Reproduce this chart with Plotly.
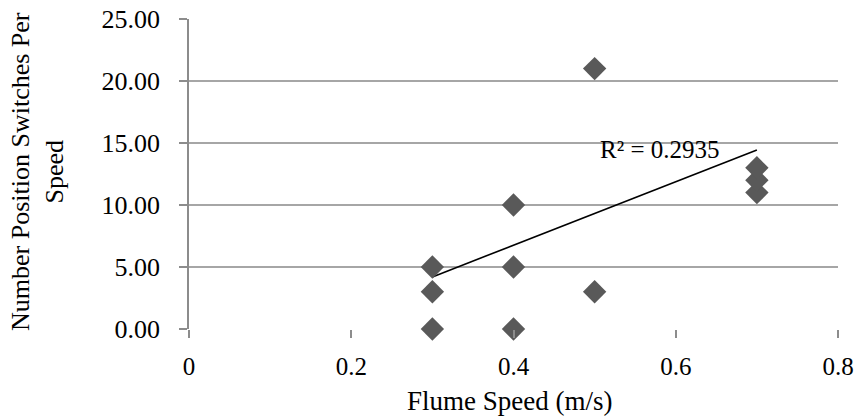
import plotly.graph_objects as go

speed = [0.3, 0.3, 0.3, 0.4, 0.4, 0.4, 0.5, 0.5, 0.7, 0.7, 0.7]
switches = [0, 3, 5, 0, 5, 10, 3, 21, 11, 12, 13]
trend_x = [0.3, 0.7]
trend_y = [4.2, 14.44]
r2_label = "R² = 0.2935"
y_ticks = [0, 5, 10, 15, 20, 25]
x_ticks = [0, 0.2, 0.4, 0.6, 0.8]

serif = "Liberation Serif"
L, R, T, B = 189, 18, 19, 90
W, H = 856, 419
pw = W - L - R
ph = H - T - B

fig = go.Figure()
fig.add_trace(go.Scatter(x=trend_x, y=trend_y, mode="lines",
                         line=dict(color="black", width=1.6), showlegend=False))
fig.add_trace(go.Scatter(x=speed, y=switches, mode="markers", cliponaxis=False,
                         marker=dict(symbol="diamond", size=18, color="#595959"),
                         showlegend=False))
fig.add_annotation(x=0.58, y=14.5, text=r2_label, showarrow=False,
                   font=dict(family=serif, size=25, color="black"))
fig.add_annotation(xref="paper", yref="paper", x=(37 - L) / pw, y=1 - (172 - T) / ph,
                   text="Number Position Switches Per<br>Speed", textangle=-90,
                   showarrow=False, xanchor="center", yanchor="middle",
                   font=dict(family=serif, size=26, color="black"))
fig.add_annotation(xref="paper", yref="paper", x=(509 - L) / pw, y=-(401 - (H - B)) / ph,
                   text="Flume Speed (m/s)", showarrow=False,
                   xanchor="center", yanchor="middle",
                   font=dict(family=serif, size=27, color="black"))
fig.update_layout(
    width=W, height=H, margin=dict(l=L, r=R, t=T, b=B, autoexpand=False),
    plot_bgcolor="white", paper_bgcolor="white",
    font=dict(family=serif, size=20, color="black"),
    xaxis=dict(range=[0, 0.8], tickvals=x_ticks, ticktext=[str(v) for v in x_ticks],
               showgrid=False, zeroline=False, showline=False, automargin=False,
               ticks="outside", ticklen=8, tickcolor="#8c8c8c", tickwidth=1.5,
               ticklabelstandoff=7,
               tickfont=dict(family=serif, size=25)),
    yaxis=dict(range=[0, 25], tickvals=y_ticks, ticktext=[f"{v:.2f}" for v in y_ticks],
               showgrid=True, gridcolor="#a6a6a6", gridwidth=1.5, automargin=False,
               zeroline=False, showline=True, linecolor="#8c8c8c", linewidth=1.5,
               ticks="outside", ticklen=8, tickcolor="#8c8c8c", tickwidth=1.5,
               ticklabelstandoff=14,
               tickfont=dict(family=serif, size=26)),
)
fig.write_html("out.html")
